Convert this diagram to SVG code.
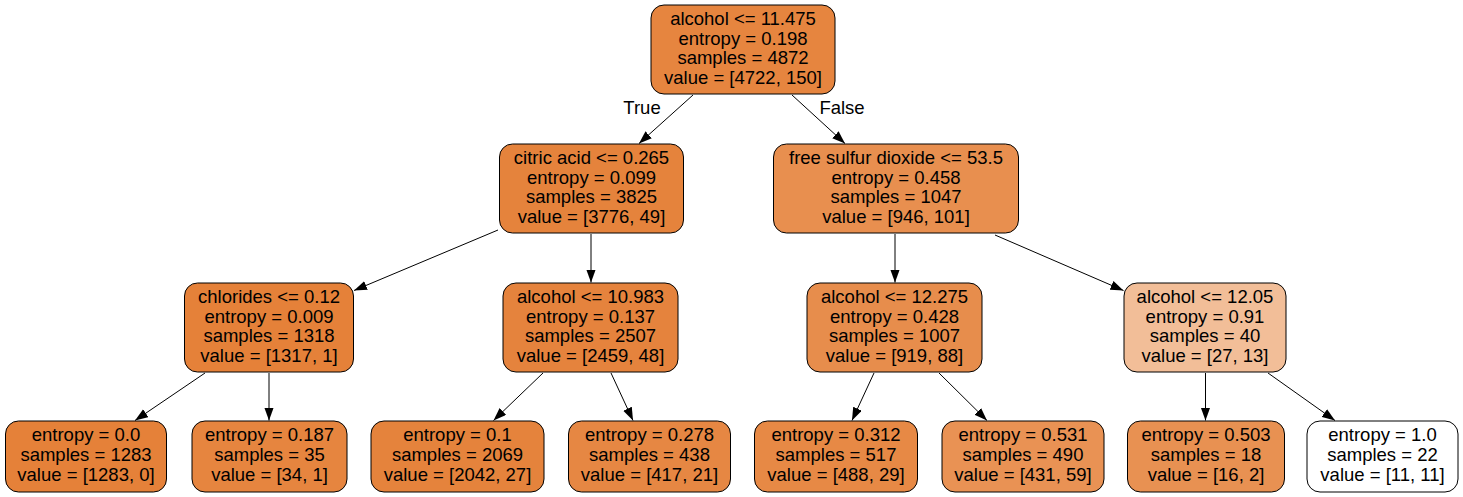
<svg xmlns="http://www.w3.org/2000/svg" width="1463" height="497" viewBox="0 0 1463 497">
<defs>
<marker id="arr" markerUnits="userSpaceOnUse" markerWidth="14" markerHeight="10" refX="13" refY="4.7" orient="auto">
<path d="M0,0 L13,4.7 L0,9.4 z" fill="#000"/>
</marker>
<style>
rect{stroke:#000;stroke-width:1}
text{font-family:"Liberation Sans",Arial,sans-serif;font-size:18.5px;fill:#000;text-anchor:middle}
.e{stroke:#000;stroke-width:1;fill:none;marker-end:url(#arr)}
</style>
</defs>
<rect width="1463" height="497" fill="#fff" style="stroke:none"/>
<g id="connectors">
<line class="e" x1="693" y1="95" x2="639" y2="143.5"/>
<line class="e" x1="792" y1="95" x2="845" y2="143.5"/>
<line class="e" x1="498" y1="230" x2="354" y2="290.5"/>
<line class="e" x1="591" y1="234" x2="591" y2="282.5"/>
<line class="e" x1="895" y1="234" x2="895" y2="282.5"/>
<line class="e" x1="995" y1="235" x2="1123.5" y2="290.5"/>
<line class="e" x1="205" y1="373" x2="135" y2="420.5"/>
<line class="e" x1="269" y1="373" x2="269" y2="420.5"/>
<line class="e" x1="543" y1="373" x2="493.5" y2="420.5"/>
<line class="e" x1="611" y1="373" x2="633" y2="420.5"/>
<line class="e" x1="874" y1="373" x2="852" y2="420.5"/>
<line class="e" x1="939" y1="373" x2="987" y2="420.5"/>
<line class="e" x1="1205.5" y1="373" x2="1205.5" y2="420.5"/>
<line class="e" x1="1268" y1="373" x2="1335" y2="420.5"/>
<text x="642" y="114">True</text>
<text x="842" y="114">False</text>
</g>
<g id="n0"><rect x="651" y="5" width="184" height="89" rx="13" fill="#e6853f"/>
<text x="743" y="25">alcohol &lt;= 11.475</text><text x="743" y="44.5">entropy = 0.198</text><text x="743" y="64">samples = 4872</text><text x="743" y="83.5">value = [4722, 150]</text></g>
<g id="n1"><rect x="499.5" y="144" width="184" height="89" rx="13" fill="#e5833c"/>
<text x="591.5" y="164">citric acid &lt;= 0.265</text><text x="591.5" y="183.5">entropy = 0.099</text><text x="591.5" y="203">samples = 3825</text><text x="591.5" y="222.5">value = [3776, 49]</text></g>
<g id="n8"><rect x="773.5" y="144" width="245" height="89" rx="13" fill="#e88f4f"/>
<text x="896" y="164">free sulfur dioxide &lt;= 53.5</text><text x="896" y="183.5">entropy = 0.458</text><text x="896" y="203">samples = 1047</text><text x="896" y="222.5">value = [946, 101]</text></g>
<g id="n2"><rect x="184.5" y="283" width="169" height="89" rx="13" fill="#e58139"/>
<text x="269" y="303">chlorides &lt;= 0.12</text><text x="269" y="322.5">entropy = 0.009</text><text x="269" y="342">samples = 1318</text><text x="269" y="361.5">value = [1317, 1]</text></g>
<g id="n5"><rect x="503" y="283" width="175" height="89" rx="13" fill="#e5833d"/>
<text x="590.5" y="303">alcohol &lt;= 10.983</text><text x="590.5" y="322.5">entropy = 0.137</text><text x="590.5" y="342">samples = 2507</text><text x="590.5" y="361.5">value = [2459, 48]</text></g>
<g id="n9"><rect x="807" y="283" width="175" height="89" rx="13" fill="#e78d4c"/>
<text x="894.5" y="303">alcohol &lt;= 12.275</text><text x="894.5" y="322.5">entropy = 0.428</text><text x="894.5" y="342">samples = 1007</text><text x="894.5" y="361.5">value = [919, 88]</text></g>
<g id="n12"><rect x="1124" y="283" width="162" height="89" rx="13" fill="#f2be98"/>
<text x="1205" y="303">alcohol &lt;= 12.05</text><text x="1205" y="322.5">entropy = 0.91</text><text x="1205" y="342">samples = 40</text><text x="1205" y="361.5">value = [27, 13]</text></g>
<g id="n3"><rect x="5.5" y="421" width="161" height="71" rx="13" fill="#e58139"/>
<text x="86" y="441">entropy = 0.0</text><text x="86" y="461">samples = 1283</text><text x="86" y="481">value = [1283, 0]</text></g>
<g id="n4"><rect x="192" y="421" width="155" height="71" rx="13" fill="#e6853f"/>
<text x="269.5" y="441">entropy = 0.187</text><text x="269.5" y="461">samples = 35</text><text x="269.5" y="481">value = [34, 1]</text></g>
<g id="n6"><rect x="371" y="421" width="173" height="71" rx="13" fill="#e5833c"/>
<text x="457.5" y="441">entropy = 0.1</text><text x="457.5" y="461">samples = 2069</text><text x="457.5" y="481">value = [2042, 27]</text></g>
<g id="n7"><rect x="568.5" y="421" width="162" height="71" rx="13" fill="#e68743"/>
<text x="649.5" y="441">entropy = 0.278</text><text x="649.5" y="461">samples = 438</text><text x="649.5" y="481">value = [417, 21]</text></g>
<g id="n10"><rect x="754.5" y="421" width="163" height="71" rx="13" fill="#e78945"/>
<text x="836" y="441">entropy = 0.312</text><text x="836" y="461">samples = 517</text><text x="836" y="481">value = [488, 29]</text></g>
<g id="n11"><rect x="942" y="421" width="162" height="71" rx="13" fill="#e99254"/>
<text x="1023" y="441">entropy = 0.531</text><text x="1023" y="461">samples = 490</text><text x="1023" y="481">value = [431, 59]</text></g>
<g id="n13"><rect x="1127.5" y="421" width="157" height="71" rx="13" fill="#e89152"/>
<text x="1206" y="441">entropy = 0.503</text><text x="1206" y="461">samples = 18</text><text x="1206" y="481">value = [16, 2]</text></g>
<g id="n14"><rect x="1307" y="421" width="151" height="71" rx="13" fill="#ffffff"/>
<text x="1382.5" y="441">entropy = 1.0</text><text x="1382.5" y="461">samples = 22</text><text x="1382.5" y="481">value = [11, 11]</text></g>
</svg>
